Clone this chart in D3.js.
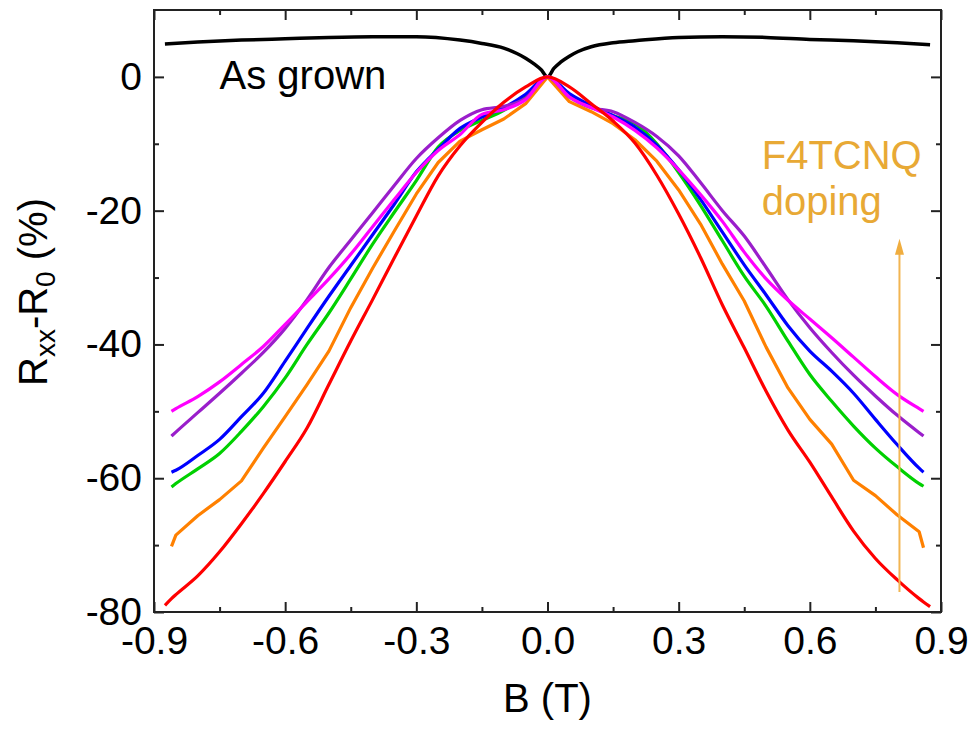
<!DOCTYPE html>
<html>
<head>
<meta charset="utf-8">
<script src="https://cdn.jsdelivr.net/npm/d3@7"></script>
<style>
  body { margin: 0; background: #fff; }
  text { font-family: "Liberation Sans", Arial, sans-serif; }
</style>
</head>
<body>
<div id="chart"></div>
<script>
// magnetic field grid (T), shared by the doped curves
var fieldB = [-0.875, -0.86, -0.85, -0.8, -0.75, -0.7, -0.65, -0.6, -0.55, -0.5, -0.45, -0.4, -0.35, -0.3, -0.25, -0.2, -0.15, -0.1, -0.05,
    0, 0.05, 0.1, 0.15, 0.2, 0.25, 0.3, 0.35, 0.4, 0.45, 0.5, 0.55, 0.6, 0.65, 0.7, 0.75, 0.8, 0.85, 0.86, 0.875];

var redR = [-79.0, -78.0, -77.4, -74.6, -71.0, -66.8, -62.3, -57.5, -52.5, -46.0, -39.5, -33.3, -27.0, -20.8, -14.8, -10.3, -6.8, -3.8, -1.5,
    0, -1.5, -4.0, -6.6, -9.9, -14.7, -20.5, -27.0, -34.1, -40.5, -47.0, -52.8, -57.6, -62.8, -67.9, -72.0, -75.2, -78.0, -78.5, -79.2];
var orangeR = [null, -70.2, -68.5, -65.6, -63.2, -60.4, -55.5, -50.8, -46.0, -41.0, -34.5, -28.6, -23.0, -17.5, -12.8, -9.6, -7.9, -6.3, -4.0,
    0, -3.7, -5.2, -7.0, -9.4, -12.6, -16.9, -22.0, -28.0, -33.5, -40.4, -46.5, -51.2, -54.9, -60.3, -62.6, -65.5, -68.0, -70.4, null];
var greenR = [null, -61.3, -60.8, -58.6, -56.3, -53.0, -49.3, -45.0, -40.0, -35.3, -30.2, -25.0, -20.2, -15.5, -10.5, -8.0, -6.5, -5.0, -2.8,
    0, -2.8, -4.5, -5.8, -7.0, -10.0, -14.3, -19.2, -24.5, -29.8, -34.3, -39.5, -44.5, -48.5, -52.2, -55.5, -58.3, -60.8, -61.2, null];
var blueR = [null, -59.1, -58.8, -56.6, -54.2, -50.8, -47.3, -42.5, -37.6, -32.8, -28.2, -23.6, -19.0, -14.2, -10.8, -7.7, -6.0, -4.6, -2.6,
    0, -2.5, -4.3, -5.8, -7.5, -10.2, -13.9, -18.3, -23.2, -28.1, -32.6, -37.2, -41.0, -44.0, -47.3, -51.2, -55.0, -58.5, -59.1, null];
var purpleR = [null, -53.7, -53.1, -50.2, -47.3, -44.3, -41.2, -37.6, -33.3, -28.5, -24.4, -20.3, -16.2, -12.2, -9.1, -6.5, -4.9, -4.4, -3.2,
    0, -3.0, -4.6, -5.2, -6.8, -8.9, -11.8, -15.8, -20.0, -23.8, -28.5, -33.3, -37.5, -41.2, -44.6, -47.7, -50.6, -53.2, -53.7, null];
var magentaR = [null, -50.0, -49.6, -47.8, -45.6, -43.0, -40.3, -37.0, -33.6, -30.2, -26.5, -22.4, -18.3, -14.3, -11.0, -8.6, -5.6, -4.9, -3.4,
    0, -3.0, -4.6, -6.0, -8.0, -10.6, -13.9, -17.6, -21.6, -26.2, -30.2, -33.4, -36.2, -39.0, -41.9, -44.8, -47.5, -49.6, -50.0, null];

// as grown sample, finer grid around the cusp
var blackB = [-0.875, -0.8, -0.7, -0.6, -0.5, -0.4, -0.3, -0.2, -0.15, -0.1, -0.07, -0.05, -0.03, -0.015, 0,
    0.015, 0.03, 0.05, 0.07, 0.1, 0.15, 0.2, 0.3, 0.4, 0.5, 0.6, 0.7, 0.8, 0.875];
var blackR = [4.9, 5.2, 5.5, 5.7, 5.9, 6.0, 6.0, 5.5, 5.0, 4.3, 3.5, 2.8, 1.9, 1.1, 0,
    1.3, 2.2, 3.1, 3.8, 4.5, 5.1, 5.4, 5.9, 6.0, 5.9, 5.6, 5.4, 5.1, 4.8];

var xTicks = [-0.9, -0.6, -0.3, 0.0, 0.3, 0.6, 0.9];
var yTicks = [-80, -60, -40, -20, 0];
var xMinor = [-0.75, -0.45, -0.15, 0.15, 0.45, 0.75];
var yMinor = [-70, -50, -30, -10];

// drawing order: orange first, red on top
var series = [
    { name: 'orange', color: '#ff8000', values: orangeR, curve: d3.curveLinear },
    { name: 'green', color: '#00d000', values: greenR, curve: d3.curveMonotoneX },
    { name: 'blue', color: '#0000ff', values: blueR, curve: d3.curveMonotoneX },
    { name: 'purple', color: '#9a1ecb', values: purpleR, curve: d3.curveMonotoneX },
    { name: 'magenta', color: '#ff00ff', values: magentaR, curve: d3.curveMonotoneX },
    { name: 'red', color: '#ff0000', values: redR, curve: d3.curveMonotoneX }
];

var width = 974, height = 729;
var plotL = 154, plotR = 941, plotT = 10, plotB = 612;

var svg = d3.select('#chart').append('svg')
    .attr('width', width)
    .attr('height', height);

var x = d3.scaleLinear().domain([-0.9, 0.9]).range([plotL, plotR]);
var y = d3.scaleLinear().domain([-80, 10]).range([plotB, plotT]);

function makeLine(curve) {
    return d3.line()
        .defined(function (d) { return d[1] != null; })
        .x(function (d) { return x(d[0]); })
        .y(function (d) { return y(d[1]); })
        .curve(curve);
}

// as grown curve
svg.append('path')
    .datum(blackB.map(function (b, i) { return [b, blackR[i]]; }))
    .attr('fill', 'none')
    .attr('stroke', '#000')
    .attr('stroke-width', 3.5)
    .attr('d', makeLine(d3.curveMonotoneX));

svg.selectAll('.curve')
    .data(series)
    .enter().append('path')
    .attr('class', 'curve')
    .attr('fill', 'none')
    .attr('stroke', function (d) { return d.color; })
    .attr('stroke-width', 3.2)
    .attr('stroke-linejoin', 'round')
    .attr('d', function (d) {
        return makeLine(d.curve)(fieldB.map(function (b, i) { return [b, d.values[i]]; }));
    });

// axes, ticks pointing inward
function styleAxis(g) {
    g.select('.domain').remove();
    g.selectAll('.tick line').attr('stroke', '#222').attr('stroke-width', 2);
    g.selectAll('.tick text')
        .attr('fill', '#000')
        .style('font-size', '39px')
        .style('font-family', '"Liberation Sans", Arial, sans-serif');
}

// plain hyphen for negatives, as in the original
var fmtX = function (d) { return d3.format('.1f')(d).replace('\u2212', '-'); };
var fmtY = function (d) { return String(d); };

svg.append('g').attr('transform', 'translate(0,' + plotB + ')')
    .call(d3.axisBottom(x).tickValues(xTicks).tickSize(-10).tickPadding(14).tickFormat(fmtX))
    .call(styleAxis);
svg.append('g').attr('transform', 'translate(0,' + plotB + ')')
    .call(d3.axisBottom(x).tickValues(xMinor).tickSize(-5).tickFormat(''))
    .call(styleAxis);
svg.append('g').attr('transform', 'translate(0,' + plotT + ')')
    .call(d3.axisTop(x).tickValues(xTicks).tickSize(-10).tickFormat(''))
    .call(styleAxis);
svg.append('g').attr('transform', 'translate(0,' + plotT + ')')
    .call(d3.axisTop(x).tickValues(xMinor).tickSize(-5).tickFormat(''))
    .call(styleAxis);

svg.append('g').attr('transform', 'translate(' + plotL + ',0)')
    .call(d3.axisLeft(y).tickValues(yTicks).tickSize(-10).tickPadding(12).tickFormat(fmtY))
    .call(styleAxis);
svg.append('g').attr('transform', 'translate(' + plotL + ',0)')
    .call(d3.axisLeft(y).tickValues(yMinor).tickSize(-5).tickFormat(''))
    .call(styleAxis);
svg.append('g').attr('transform', 'translate(' + plotR + ',0)')
    .call(d3.axisRight(y).tickValues(yTicks).tickSize(-10).tickFormat(''))
    .call(styleAxis);
svg.append('g').attr('transform', 'translate(' + plotR + ',0)')
    .call(d3.axisRight(y).tickValues(yMinor).tickSize(-5).tickFormat(''))
    .call(styleAxis);

// frame
svg.append('rect')
    .attr('x', plotL).attr('y', plotT)
    .attr('width', plotR - plotL).attr('height', plotB - plotT)
    .attr('fill', 'none')
    .attr('stroke', '#222')
    .attr('stroke-width', 2);

// axis titles
svg.append('text')
    .attr('x', (plotL + plotR) / 2)
    .attr('y', 712)
    .attr('text-anchor', 'middle')
    .style('font-size', '40px')
    .text('B (T)');

var yt = svg.append('text')
    .attr('transform', 'translate(47,292) rotate(-90)')
    .attr('text-anchor', 'middle')
    .style('font-size', '40px');
yt.append('tspan').text('R');
yt.append('tspan').attr('dy', 8).style('font-size', '28px').text('xx');
yt.append('tspan').attr('dy', -8).text('-R');
yt.append('tspan').attr('dy', 8).style('font-size', '28px').text('0');
yt.append('tspan').attr('dy', -8).text(' (%)');

// annotations
svg.append('text')
    .attr('x', x(-0.75)).attr('y', y(-1.8))
    .style('font-size', '40px')
    .text('As grown');

var dopeColor = '#e8a935';
svg.append('text')
    .attr('x', x(0.49)).attr('y', y(-13.8))
    .attr('fill', dopeColor)
    .style('font-size', '40px')
    .text('F4TCNQ');
svg.append('text')
    .attr('x', x(0.49)).attr('y', y(-20.6))
    .attr('fill', dopeColor)
    .style('font-size', '40px')
    .text('doping');

var arrowB = 0.805, arrowFrom = -77, arrowTo = -24.2;
svg.append('line')
    .attr('x1', x(arrowB)).attr('x2', x(arrowB))
    .attr('y1', y(arrowFrom)).attr('y2', y(arrowTo) + 10)
    .attr('stroke', '#f2b552')
    .attr('stroke-width', 2);
svg.append('path')
    .attr('d', 'M' + x(arrowB) + ',' + y(arrowTo) +
        'L' + (x(arrowB) - 4.5) + ',' + (y(arrowTo) + 16) +
        'L' + (x(arrowB) + 4.5) + ',' + (y(arrowTo) + 16) + 'Z')
    .attr('fill', '#f0ad3e');
</script>
</body>
</html>
